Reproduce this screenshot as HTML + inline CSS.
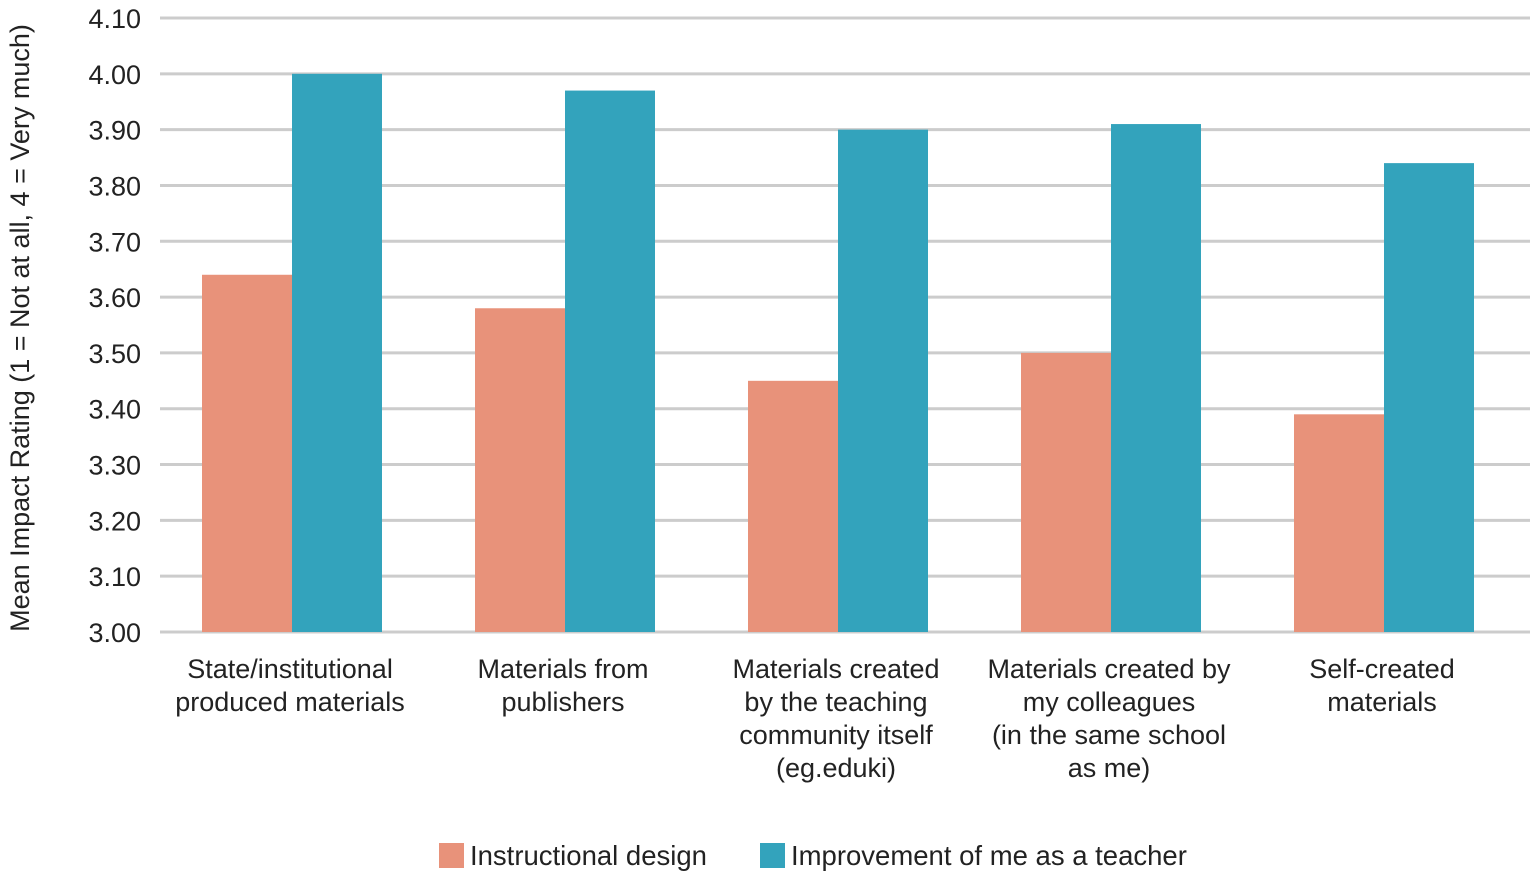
<!DOCTYPE html>
<html><head><meta charset="utf-8"><style>
html,body{margin:0;padding:0;background:#fff;}
svg{display:block;font-family:"Liberation Sans",sans-serif;}
</style></head><body>
<svg id="chart" width="1535" height="877" viewBox="0 0 1535 877" xmlns="http://www.w3.org/2000/svg">
<g id="grid"></g>
<g id="yticks"></g>
<g id="bars"></g>
<g id="xlabels"></g>
<text transform="translate(29,328) rotate(-90)" text-anchor="middle" font-size="27" fill="#222">Mean Impact Rating (1 = Not at all, 4 = Very much)</text>
<g>
<rect x="439" y="843" width="25" height="25" fill="#E8927A"/>
<text x="470" y="865" font-size="27.5" fill="#222">Instructional design</text>
<rect x="760" y="843" width="25" height="25" fill="#33A3BC"/>
<text x="791" y="865" font-size="27.5" fill="#222">Improvement of me as a teacher</text>
</g>
</svg>
<script>
const categories=[["State/institutional","produced materials"],["Materials from","publishers"],["Materials created","by the teaching","community itself","(eg.eduki)"],["Materials created by","my colleagues","(in the same school","as me)"],["Self-created","materials"]];
const instructional=[3.64,3.58,3.45,3.50,3.39];
const improvement=[4.00,3.97,3.90,3.91,3.84];
const yTicks=[3.00,3.10,3.20,3.30,3.40,3.50,3.60,3.70,3.80,3.90,4.00,4.10];
const NS="http://www.w3.org/2000/svg";
const x0=155.5,plotW=1365,yMin=3.0,yMax=4.1,yTop=18,yBot=632,barW=90;
const step=plotW/categories.length;
function y(v){return yBot-(v-yMin)/(yMax-yMin)*(yBot-yTop);}
function xc(i){return x0+step*(i+0.5);}
function mk(tag,attrs,parent){const e=document.createElementNS(NS,tag);for(const k in attrs)e.setAttribute(k,attrs[k]);parent.appendChild(e);return e;}
const grid=document.getElementById('grid'),yt=document.getElementById('yticks'),bars=document.getElementById('bars'),xl=document.getElementById('xlabels');
yTicks.forEach(t=>{
  const l=mk('line',{x1:160,x2:1530,y1:y(t),y2:y(t),stroke:'#cccccc','stroke-width':3},grid);
  
  
  const tx=mk('text',{x:141,y:y(t)+10,'text-anchor':'end','font-size':27,fill:'#222'},yt);
  tx.textContent=t.toFixed(2);
  
  
});
categories.forEach((c,i)=>{
  const cx=xc(i);
  const b1=mk('rect',{x:cx-barW,y:y(instructional[i]),width:barW,height:yBot-y(instructional[i]),fill:'#E8927A'},bars);
  
  
  const b2=mk('rect',{x:cx,y:y(improvement[i]),width:barW,height:yBot-y(improvement[i]),fill:'#33A3BC'},bars);
  
  
  const t=mk('text',{x:cx-2,y:678,'text-anchor':'middle','font-size':27,fill:'#222'},xl);
  
  
  c.forEach((line,j)=>{const s=mk('tspan',{x:cx-2,dy:j?33:0},t);s.textContent=line;});
});
</script>
</body></html>
